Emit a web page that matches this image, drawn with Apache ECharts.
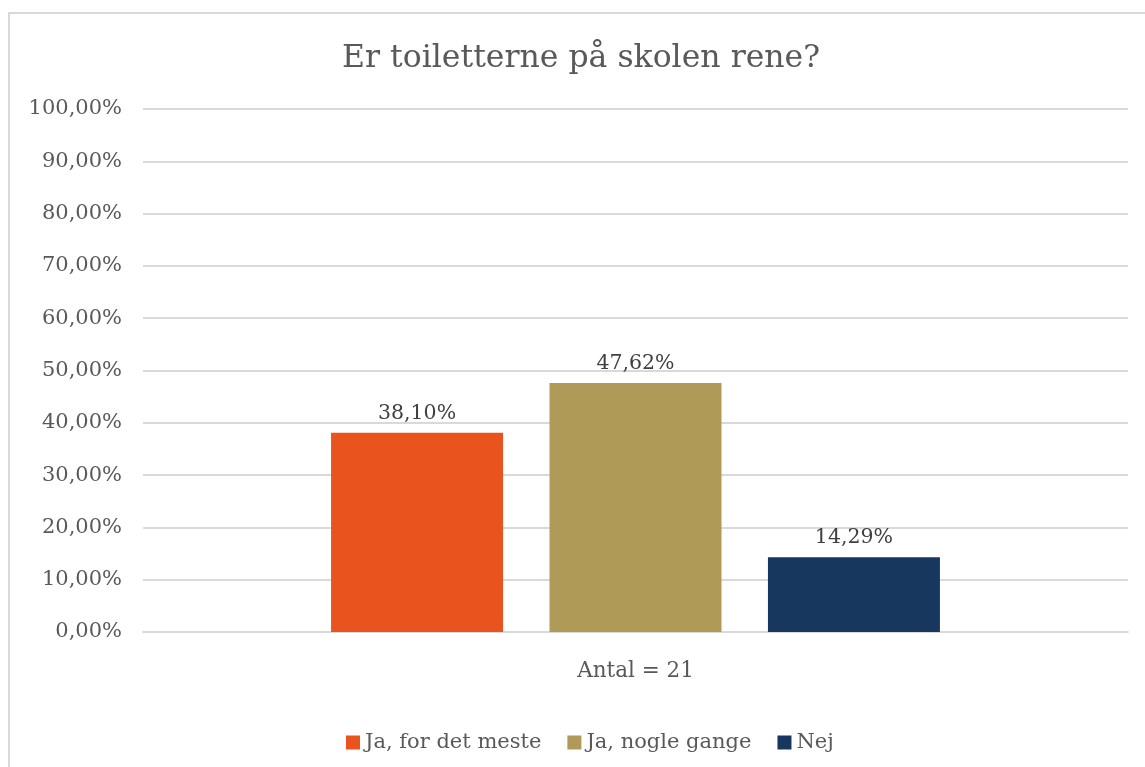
<!DOCTYPE html>
<html>
<head>
<meta charset="utf-8">
<script src="https://cdn.jsdelivr.net/npm/echarts@6/dist/echarts.min.js"></script>
<style>
    html, body { margin: 0; padding: 0; background: #fff; }
    #frame {
        position: absolute; left: 8px; top: 12px;
        width: 1140px; height: 770px;
        border-left: 2px solid #d9d9d9; border-top: 2px solid #d9d9d9;
    }
    #chart { position: absolute; left: 0; top: 0; width: 1145px; height: 767px; }
</style>
</head>
<body>
<div id="frame"></div>
<div id="chart"></div>
<script>
// data
var categories = ['Antal = 21'];
var seriesNames = ['Ja, for det meste', 'Ja, nogle gange', 'Nej'];
var seriesValues = [38.10, 47.62, 14.29];
var seriesColors = ['#E9531E', '#AF9A58', '#17375E'];

var fontFam = '"DejaVu Serif", Georgia, serif';

// komma som decimaltegn
function pct(v) {
    return v.toFixed(2).replace('.', ',') + '%';
}

var chart = echarts.init(document.getElementById('chart'));

var series = [];
seriesNames.forEach(function (name, i) {
    series.push({
        name: name,
        type: 'bar',
        data: [seriesValues[i]],
        barWidth: 172,
        barGap: '27%',
        itemStyle: { color: seriesColors[i] },
        label: {
            show: true,
            position: 'top',
            distance: 9,
            color: '#404040',
            fontFamily: fontFam,
            fontSize: 20.5,
            formatter: function (p) { return pct(p.value); }
        }
    });
});

chart.setOption({
    animation: false,
    title: {
        text: 'Er toiletterne på skolen rene?',
        left: 337,
        top: 38,
        textStyle: {
            color: '#595959',
            fontFamily: fontFam,
            fontWeight: 'normal',
            fontSize: 31.5
        }
    },
    legend: {
        bottom: 9,
        left: 341,
        itemWidth: 14,
        itemHeight: 14,
        itemGap: 26,
        icon: 'rect',
        textStyle: { color: '#595959', fontFamily: fontFam, fontSize: 21 },
        data: seriesNames
    },
    grid: {
        left: 143,
        right: 17,
        top: 109,
        bottom: 135,
        containLabel: false
    },
    xAxis: {
        type: 'category',
        data: categories,
        axisLine: { lineStyle: { color: '#d9d9d9', width: 2 } },
        axisTick: { show: false },
        axisLabel: {
            color: '#595959',
            fontFamily: fontFam,
            fontSize: 21.5,
            margin: 28
        }
    },
    yAxis: {
        type: 'value',
        min: 0,
        max: 100,
        interval: 10,
        axisLine: { show: false },
        axisTick: { show: false },
        splitLine: { lineStyle: { color: '#d9d9d9', width: 2 } },
        axisLabel: {
            color: '#595959',
            fontFamily: fontFam,
            fontSize: 21,
            margin: 21,
            formatter: function (v) { return pct(v); }
        }
    },
    series: series
});
</script>
</body>
</html>
